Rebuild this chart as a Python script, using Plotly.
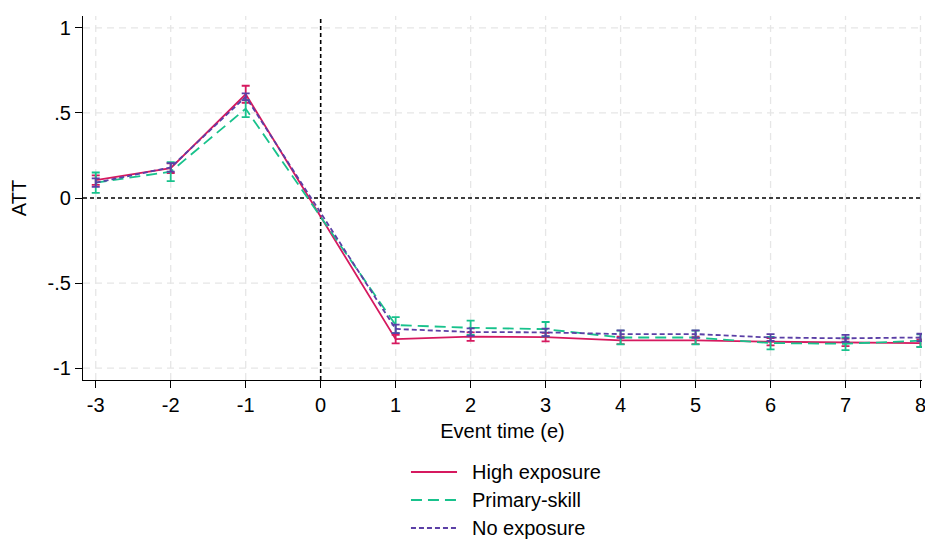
import plotly.graph_objects as go

event_time = [-3, -2, -1, 1, 2, 3, 4, 5, 6, 7, 8]

high_att = [0.105, 0.175, 0.61, -0.83, -0.815, -0.818, -0.837, -0.837, -0.845, -0.849, -0.853]
high_ci = [0.028, 0.028, 0.05, 0.025, 0.025, 0.025, 0.022, 0.022, 0.022, 0.022, 0.022]

prim_att = [0.09, 0.155, 0.525, -0.747, -0.763, -0.771, -0.82, -0.82, -0.853, -0.857, -0.839]
prim_ci = [0.06, 0.056, 0.05, 0.047, 0.042, 0.042, 0.04, 0.04, 0.037, 0.037, 0.037]

noexp_att = [0.09, 0.18, 0.595, -0.77, -0.788, -0.79, -0.80, -0.80, -0.82, -0.825, -0.82]
noexp_ci = [0.025, 0.025, 0.02, 0.025, 0.022, 0.022, 0.022, 0.022, 0.02, 0.02, 0.022]

x_ticks = [-3, -2, -1, 0, 1, 2, 3, 4, 5, 6, 7, 8]
x_labels = ["-3", "-2", "-1", "0", "1", "2", "3", "4", "5", "6", "7", "8"]
y_ticks = [-1, -0.5, 0, 0.5, 1]
y_labels = ["-1", "-.5", "0", ".5", "1"]

series_names = ["High exposure", "Primary-skill", "No exposure"]

RED = "#D6195F"
GREEN = "#18C28C"
PURPLE = "#5B3FA6"
colors = [RED, GREEN, PURPLE]
dashes = ["solid", "11px,6px", "5px,3px"]

fig = go.Figure()

# Gridlines (light grey dashed), skipping zero where the reference line sits
GRID = dict(color="#E6E6E6", width=1.3, dash="7px,5px")
for xv in x_ticks:
    if xv != 0:
        fig.add_shape(type="line", xref="x", yref="paper", x0=xv, x1=xv, y0=0, y1=1,
                      line=GRID, layer="below")
for yv in y_ticks:
    if yv != 0:
        fig.add_shape(type="line", xref="paper", yref="y", x0=0, x1=1, y0=yv, y1=yv,
                      line=GRID, layer="below")

# Reference lines at zero
fig.add_shape(type="line", xref="x", yref="paper", x0=0, x1=0, y0=0, y1=1,
              line=dict(color="black", width=1.6, dash="4px,3px"), layer="below")
fig.add_shape(type="line", xref="paper", yref="y", x0=0, x1=1, y0=0, y1=0,
              line=dict(color="black", width=1.6, dash="4px,3px"), layer="below")

for name, y, ci, color, dash in zip(series_names, [high_att, prim_att, noexp_att],
                                    [high_ci, prim_ci, noexp_ci], colors, dashes):
    fig.add_trace(go.Scatter(
        x=event_time, y=y, name=name, mode="lines",
        line=dict(color=color, width=1.8, dash=dash),
        error_y=dict(type="data", array=ci, visible=True, color=color,
                     thickness=1.8, width=4),
        showlegend=False,
    ))

# Manual legend (below plot, stacked)
font = "Liberation Sans, Arial, Helvetica, sans-serif"
leg_y = [-0.2527, -0.3297, -0.4066]
for name, color, dash, yy in zip(series_names, colors, dashes, leg_y):
    fig.add_shape(type="line", xref="paper", yref="paper", x0=0.3909, x1=0.4458,
                  y0=yy, y1=yy, line=dict(color=color, width=1.8, dash=dash))
    fig.add_annotation(xref="paper", yref="paper", x=0.4613, y=yy, text=name,
                       showarrow=False, xanchor="left", yanchor="middle",
                       font=dict(family=font, size=20, color="black"))

fig.update_layout(
    width=925, height=541,
    margin=dict(l=83, r=3, t=16, b=161),
    paper_bgcolor="white", plot_bgcolor="white",
    font=dict(family=font, size=20, color="black"),
    showlegend=False,
    xaxis=dict(range=[-3.17, 8.02], tickvals=x_ticks, ticktext=x_labels, ticks="outside",
               ticklen=7, tickcolor="black", showline=True, linecolor="black", linewidth=1.2,
               showgrid=False, zeroline=False, ticklabeloverflow="allow", automargin=False,
               title=dict(text="Event time (e)", font=dict(size=20), standoff=8),
               tickfont=dict(size=20)),
    yaxis=dict(range=[-1.07, 1.07], tickvals=y_ticks, ticktext=y_labels, ticks="outside",
               ticklen=7, tickcolor="black", showline=True, linecolor="black", linewidth=1.2,
               showgrid=False, zeroline=False, automargin=False,
               title=dict(text="ATT", font=dict(size=20), standoff=15),
               tickfont=dict(size=20)),
)

fig.write_html("out.html")
